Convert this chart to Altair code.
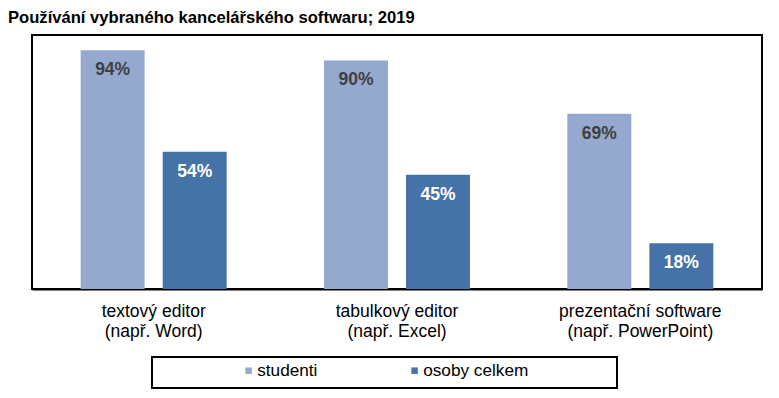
import altair as alt
import pandas as pd

line1 = ["textový editor", "tabulkový editor", "prezentační software"]
line2 = ["(např. Word)", "(např. Excel)", "(např. PowerPoint)"]
series = ["studenti", "osoby celkem"]
studenti = [94, 90, 69]
osoby = [54, 45, 18]

cats = [a + "\n" + b for a, b in zip(line1, line2)]
rows = []
for c, s, o in zip(cats, studenti, osoby):
    rows.append({"kategorie": c, "skupina": series[0], "hodnota": s})
    rows.append({"kategorie": c, "skupina": series[1], "hodnota": o})
df = pd.DataFrame(rows)

FONT = "Liberation Sans"

base = alt.Chart(df).encode(
    x=alt.X("kategorie:N", sort=cats, title=None,
            scale=alt.Scale(paddingInner=0.4, paddingOuter=0.2),
            axis=alt.Axis(labelExpr="split(datum.label, '\\n')", labelAngle=0,
                          labelFontSize=17.5, labelFont=FONT, labelColor="black",
                          labelLineHeight=20, labelPadding=13, ticks=False,
                          domainColor="black", domainWidth=2)),
    xOffset=alt.XOffset("skupina:N", sort=series,
                        scale=alt.Scale(paddingInner=0.22, paddingOuter=0)),
    y=alt.Y("hodnota:Q", scale=alt.Scale(domain=[0, 100]), axis=None),
)

bars = base.mark_bar().encode(
    color=alt.Color("skupina:N", sort=series,
                    scale=alt.Scale(domain=series, range=["#95A9CF", "#4673A7"]),
                    legend=alt.Legend(title=None, orient="none", direction="horizontal",
                                      legendX=208, legendY=327, padding=0,
                                      symbolType="square",
                                      symbolSize=42, labelFontSize=17.2, labelFont=FONT,
                                      labelColor="black", labelOffset=0,
                                      columnPadding=88, symbolStrokeWidth=0))
)

labels = base.mark_text(dy=20, baseline="middle", fontSize=17.5, fontWeight="bold",
                        font=FONT).encode(
    color=alt.condition(alt.datum.skupina == "studenti",
                        alt.value("#404040"), alt.value("white")),
).transform_calculate(pct="datum.hodnota + '%'").encode(text="pct:N")

box = alt.Chart(pd.DataFrame({"a": [0]})).mark_rect(
    fill=None, stroke="black", strokeWidth=2
).encode(x=alt.value(120), x2=alt.value(585), y=alt.value(322), y2=alt.value(353))

chart = alt.layer(bars, labels, box).properties(
    width=730, height=254,
    title=alt.TitleParams("Používání vybraného kancelářského softwaru; 2019",
                          anchor="start", fontSize=16.6, fontWeight="bold", font=FONT,
                          color="black", dx=-24, offset=8),
    autosize=alt.AutoSizeParams(type="none"),
    padding={"left": 24, "top": 27, "right": 9, "bottom": 101},
).configure_view(stroke="black", strokeWidth=2)

chart.save("out.html", embed_options={"renderer": "svg", "actions": False})
